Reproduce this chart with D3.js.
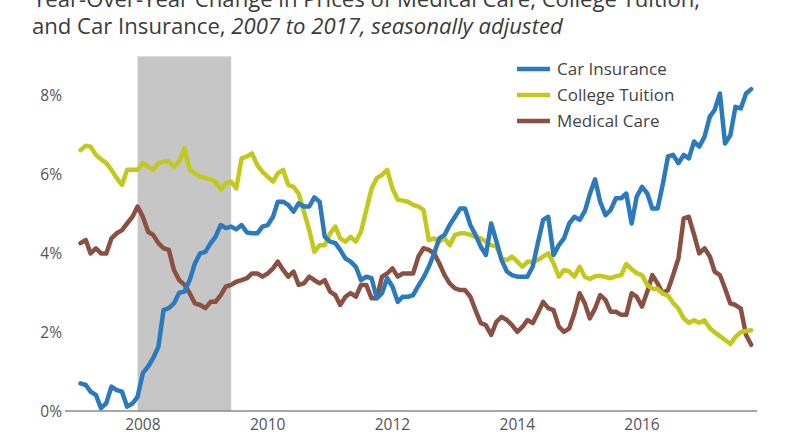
<!DOCTYPE html>
<html>
<head>
<meta charset="utf-8">
<title>Car Insurance, College Tuition, Medical Care</title>
<script src="https://cdn.jsdelivr.net/npm/d3@7"></script>
<style>
    html, body {
        margin: 0;
        padding: 0;
        background: #fff;
    }
</style>
</head>
<body>
<div id="chart"></div>
<script>
    // monthly year-over-year change, Jan 2007 .. Oct 2017
    const seriesNames = ["Car Insurance", "College Tuition", "Medical Care"];

    const carInsurance = [
        0.70, 0.66, 0.49, 0.41, 0.07, 0.20, 0.62, 0.53, 0.49, 0.11, 0.19, 0.36,
        0.96, 1.13, 1.34, 1.63, 2.56, 2.61, 2.73, 3.00, 3.03, 3.32, 3.75, 4.00,
        4.04, 4.26, 4.42, 4.72, 4.64, 4.68, 4.61, 4.72, 4.53, 4.51, 4.51, 4.68,
        4.72, 4.93, 5.31, 5.31, 5.23, 5.06, 5.27, 5.19, 5.19, 5.42, 5.31, 4.42,
        4.30, 4.26, 4.09, 3.87, 3.79, 3.66, 3.32, 3.41, 3.37, 2.86, 2.99, 3.37,
        3.16, 2.77, 2.90, 2.90, 2.94, 3.18, 3.39, 3.66, 4.00, 4.38, 4.47, 4.72,
        4.93, 5.14, 5.14, 4.72, 4.47, 4.17, 3.96, 4.76, 4.30, 3.83, 3.54, 3.45,
        3.41, 3.41, 3.41, 3.66, 4.26, 4.85, 4.93, 3.96, 4.21, 4.38, 4.76, 4.93,
        4.85, 5.08, 5.50, 5.88, 5.31, 4.97, 5.10, 5.40, 5.40, 5.52, 4.76, 5.44,
        5.69, 5.52, 5.14, 5.14, 5.74, 6.46, 6.50, 6.29, 6.50, 6.41, 6.84, 6.71,
        6.96, 7.47, 7.64, 8.06, 6.79, 7.00, 7.72, 7.68, 8.06, 8.17
    ];

    const collegeTuition = [
        6.62, 6.73, 6.71, 6.50, 6.39, 6.29, 6.12, 5.91, 5.74, 6.12, 6.12, 6.12,
        6.29, 6.20, 6.12, 6.29, 6.33, 6.33, 6.20, 6.33, 6.67, 6.12, 6.03, 5.95,
        5.91, 5.88, 5.82, 5.62, 5.78, 5.82, 5.65, 6.41, 6.46, 6.54, 6.24, 6.07,
        5.95, 5.82, 6.03, 6.12, 5.74, 5.69, 5.52, 5.06, 4.59, 4.04, 4.21, 4.21,
        4.51, 4.68, 4.38, 4.30, 4.42, 4.30, 4.55, 5.10, 5.65, 5.91, 5.99, 6.12,
        5.65, 5.36, 5.34, 5.31, 5.23, 5.19, 5.10, 4.34, 4.38, 4.30, 4.38, 4.21,
        4.47, 4.51, 4.51, 4.47, 4.42, 4.38, 4.30, 4.21, 4.17, 3.87, 3.83, 3.92,
        3.79, 3.66, 3.79, 3.79, 3.83, 3.92, 4.00, 3.75, 3.41, 3.58, 3.54, 3.41,
        3.66, 3.40, 3.35, 3.42, 3.43, 3.40, 3.37, 3.42, 3.45, 3.73, 3.60, 3.50,
        3.45, 3.20, 3.10, 3.10, 2.98, 2.93, 2.74, 2.60, 2.35, 2.24, 2.30, 2.24,
        2.30, 2.10, 2.00, 1.90, 1.80, 1.70, 1.88, 2.00, 2.03, 2.05
    ];

    const medicalCare = [
        4.26, 4.34, 4.00, 4.13, 4.00, 4.00, 4.38, 4.51, 4.59, 4.76, 4.93, 5.19,
        4.93, 4.55, 4.47, 4.26, 4.13, 4.09, 3.58, 3.32, 3.20, 2.99, 2.73, 2.69,
        2.61, 2.77, 2.77, 2.94, 3.16, 3.20, 3.28, 3.32, 3.37, 3.49, 3.49, 3.41,
        3.49, 3.62, 3.79, 3.58, 3.41, 3.54, 3.20, 3.24, 3.41, 3.32, 3.24, 3.32,
        3.03, 2.94, 2.69, 2.90, 2.99, 2.90, 3.20, 3.20, 2.86, 2.86, 3.41, 3.49,
        3.62, 3.41, 3.49, 3.49, 3.49, 3.92, 4.13, 4.09, 4.00, 3.75, 3.45, 3.24,
        3.11, 3.07, 3.07, 2.90, 2.56, 2.23, 2.18, 1.93, 2.27, 2.39, 2.31, 2.18,
        2.01, 2.14, 2.31, 2.23, 2.48, 2.77, 2.61, 2.56, 2.14, 2.01, 2.10, 2.48,
        2.99, 2.72, 2.35, 2.60, 2.94, 2.82, 2.52, 2.52, 2.44, 2.44, 2.99, 2.90,
        2.65, 3.03, 3.45, 3.24, 2.99, 3.07, 3.45, 3.87, 4.89, 4.93, 4.47, 4.00,
        4.13, 3.92, 3.54, 3.45, 3.11, 2.73, 2.69, 2.60, 1.93, 1.68
    ];

    const firstMonth = "2007-01-01";
    const yearTicks = ["2008", "2010", "2012", "2014", "2016"];
    const pctTicks = [0, 2, 4, 6, 8];
    const recession = ["2007-12-01", "2009-06-01"];

    const colors = ["#2a7abd", "#c3c81c", "#8b5041"];

    const width = 800;
    const height = 445;
    const parse = d3.utcParse("%Y-%m-%d");
    const start = parse(firstMonth);

    const x = d3.scaleUtc([start, parse("2018-01-01")], [80.5, 80.5 + 11 * 62.4]);
    const y = d3.scaleLinear([0, 9], [411, 56.4]);

    const svg = d3.select("#chart").append("svg")
        .attr("width", width)
        .attr("height", height)
        .attr("viewBox", [0, 0, width, height])
        .attr("font-family", "'Open Sans', sans-serif");

    // fit a text to the width it has in the picture
    function fit(sel, w) {
        const fs = +sel.attr("font-size");
        const cur = sel.node().getComputedTextLength();
        sel.attr("font-size", (fs * w / cur).toFixed(2));
    }

    // title, first line is cropped at the top edge
    const t1 = svg.append("text")
        .attr("x", 33)
        .attr("y", 7)
        .attr("fill", "#3b3b3b")
        .attr("font-size", 19)
        .text("Year-Over-Year Change in Prices of Medical Care, College Tuition,");
    fit(t1, 667);

    const t2 = svg.append("text")
        .attr("x", 32)
        .attr("y", 34)
        .attr("fill", "#3b3b3b")
        .attr("font-size", 19);
    t2.append("tspan").text("and Car Insurance, ");
    t2.append("tspan").attr("font-style", "italic").text("2007 to 2017, seasonally adjusted");
    fit(t2, 531);

    // recession band
    svg.append("rect")
        .attr("x", x(parse(recession[0])))
        .attr("width", x(parse(recession[1])) - x(parse(recession[0])))
        .attr("y", y(9))
        .attr("height", y(0) - y(9))
        .attr("fill", "#c6c6c6");

    // y labels, no axis line
    svg.append("g")
        .selectAll("text")
        .data(pctTicks)
        .join("text")
        .attr("x", 62)
        .attr("y", d => y(d))
        .attr("dy", "0.36em")
        .attr("text-anchor", "end")
        .attr("font-size", 15.5)
        .attr("fill", "#555")
        .text(d => d + "%");

    // x baseline
    svg.append("line")
        .attr("x1", 65)
        .attr("x2", 757)
        .attr("y1", y(0))
        .attr("y2", y(0))
        .attr("stroke", "#8a8a8a")
        .attr("stroke-width", 1.5);

    svg.append("g")
        .selectAll("text")
        .data(yearTicks)
        .join("text")
        .attr("x", d => x(parse(d + "-01-01")))
        .attr("y", 430)
        .attr("text-anchor", "middle")
        .attr("font-size", 15.5)
        .attr("fill", "#555")
        .text(d => d);

    const series = [carInsurance, collegeTuition, medicalCare];
    const line = d3.line()
        .x((d, i) => x(d3.utcMonth.offset(start, i)))
        .y(d => y(d));

    // medical first so blue and yellow sit on top like the original
    svg.append("g")
        .selectAll("path")
        .data([2, 1, 0])
        .join("path")
        .attr("d", i => line(series[i]))
        .attr("fill", "none")
        .attr("stroke", i => colors[i])
        .attr("stroke-width", 4.5)
        .attr("stroke-linejoin", "round")
        .attr("stroke-linecap", "round");

    const legend = svg.append("g")
        .selectAll("g")
        .data(seriesNames)
        .join("g")
        .attr("transform", (_, i) => `translate(517,${69 + i * 26})`);
    legend.append("line")
        .attr("x1", 0)
        .attr("x2", 33)
        .attr("stroke", (_, i) => colors[i])
        .attr("stroke-width", 4.5);
    legend.append("text")
        .attr("x", 40)
        .attr("dy", "0.36em")
        .attr("font-size", 17)
        .attr("fill", "#444")
        .text(d => d);
</script>
</body>
</html>
